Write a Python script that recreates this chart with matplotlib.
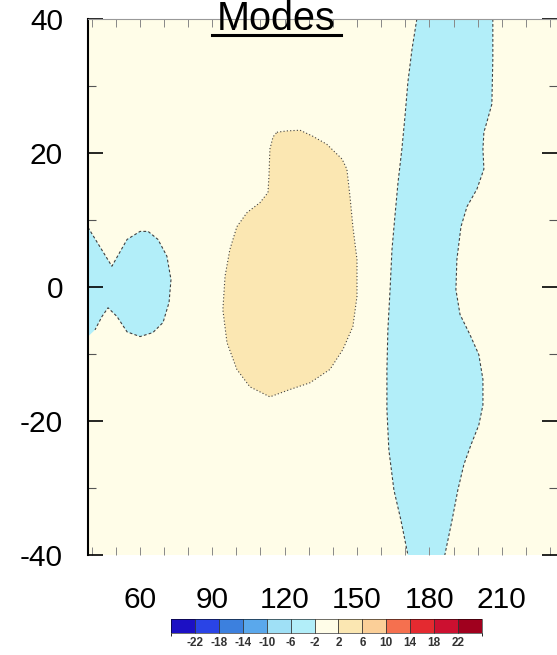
import matplotlib
matplotlib.use("Agg")
import matplotlib.pyplot as plt
import matplotlib as mpl
from matplotlib.colors import ListedColormap, BoundaryNorm
from matplotlib.lines import Line2D

plt.rcParams["font.family"] = ["Liberation Sans", "DejaVu Sans"]
plt.rcParams["axes.unicode_minus"] = False

# ---------------------------
# Data (lon, lat outlines)
# ---------------------------
levels = [-22, -18, -14, -10, -6, -2, 2, 6, 10, 14, 18, 22]
colors = ["#1c10c4", "#2a44e6", "#3c80de", "#5aa8ec", "#9fe0f6", "#b2eef9",
          "#fffde8", "#fbe7b2", "#fbcf98", "#f5704f", "#e42a30", "#cc1030", "#a0001e"]

xticks = [60, 90, 120, 150, 180, 210]
yticks = [-40, -20, 0, 20, 40]

# cyan blob on the western edge (value between -6 and -2)
west_lon = [38.5, 48.4, 54.7, 60.1, 63.4, 67.5, 71.2, 72.9, 72.1, 69.6, 65.4,
            60.1, 54.7, 50.5, 46.8, 44.3, 41.4, 38.5]
west_lat = [8.9, 3.1, 7.1, 8.3, 8.3, 7.1, 4.6, 1.1, -2.3, -5.3, -6.8,
            -7.4, -6.7, -4.4, -3.1, -4.4, -6.4, -7.4]

# tan blob (value between 2 and 6)
tan_lon = [116.8, 121.0, 126.4, 131.7, 137.5, 143.8, 145.8, 147.1, 148.3, 150.0,
           150.0, 148.3, 144.2, 138.8, 130.5, 122.2, 113.9, 105.6, 100.2, 96.1,
           94.4, 95.3, 97.3, 100.2, 104.4, 109.8, 113.1, 113.5, 113.9, 115.2, 116.8]
tan_lat = [23.1, 23.3, 23.4, 22.5, 21.3, 19.1, 17.6, 13.5, 9.0, 4.1,
           -1.4, -5.9, -9.3, -12.3, -14.3, -15.3, -16.4, -14.9, -12.3, -8.3,
           -3.4, 1.6, 5.6, 9.0, 11.1, 12.6, 14.1, 16.5, 20.6, 22.4, 23.1]

# cyan band near the dateline: western and eastern edges
band_w_lon = [174.8, 172.8, 171.1, 169.9, 168.6, 167.0, 165.7, 164.5, 163.7,
              162.8, 162.4, 162.4, 163.2, 165.3, 168.2, 171.1]
band_w_lat = [40, 35.5, 30.6, 25.5, 20.6, 15.6, 10.5, 5.6, -0.4,
              -6.4, -12.3, -18.3, -24.3, -30.3, -34.8, -40]
band_e_lon = [206.3, 206.3, 205.9, 203.9, 202.6, 202.2, 202.6, 199.7, 195.6, 193.1,
              191.4, 191.0, 192.7, 196.8, 200.5, 202.2, 202.2, 200.5, 197.2, 194.3,
              191.8, 189.4, 186.4]
band_e_lat = [40, 34.0, 27.3, 24.7, 23.1, 20.6, 17.6, 14.6, 12.0, 9.0,
              4.1, -0.4, -4.1, -7.1, -10.1, -13.8, -17.6, -20.6, -23.6, -26.5,
              -30.3, -34.8, -40]

# ---------------------------
# Figure
# ---------------------------
fig = plt.figure(figsize=(5.57, 6.55), dpi=100)
ax = fig.add_axes([88 / 557, 100 / 655, 469 / 557, 536 / 655])
ax.set_facecolor(colors[6])

cyan = colors[5]
tan = colors[7]
line_kw = dict(color="#404040", lw=0.8, ls=(0, (2.5, 2)))

ax.fill(west_lon, west_lat, color=cyan, lw=0)
ax.plot(west_lon[:-1], west_lat[:-1], **line_kw)

ax.fill(tan_lon, tan_lat, color=tan, lw=0)
ax.plot(tan_lon, tan_lat, color="#404040", lw=0.8, ls=(0, (1, 2)))

ax.fill(band_w_lon + band_e_lon[::-1], band_w_lat + band_e_lat[::-1], color=cyan, lw=0)
ax.plot(band_w_lon, band_w_lat, **line_kw)
ax.plot(band_e_lon, band_e_lat, **line_kw)

ax.set_xlim(38.5, 232.9)
ax.set_ylim(-40, 40)

ax.set_xticks(xticks)
ax.set_xticks(range(40, 240, 10), minor=True)
ax.set_yticks(yticks)
ax.set_yticks(range(-40, 50, 10), minor=True)

ax.tick_params(axis="x", which="both", direction="in", length=6, width=0.7,
               color="#888888", top=True, bottom=True, labelsize=21.5, pad=22)
ax.tick_params(axis="y", which="major", direction="in", length=11, width=1.2,
               left=True, right=True, labelsize=21.5, pad=18)
ax.tick_params(axis="y", which="minor", direction="in", length=6, width=0.8,
               color="#555555", left=True, right=True)

ax.spines["left"].set_linewidth(1.5)
ax.spines["top"].set_color("#999999")
ax.spines["bottom"].set_visible(False)
ax.spines["right"].set_visible(False)

# title with underline
fig.text(276 / 557, 1 - 30 / 655, "Modes", ha="center", va="baseline", fontsize=28.5)
fig.add_artist(Line2D([212 / 557, 341 / 557], [1 - 35 / 655] * 2, lw=2.2,
                      color="black", transform=fig.transFigure))

# colorbar
cax = fig.add_axes([171 / 557, 22 / 655, 311 / 557, 14 / 655])
bounds = [-26] + levels + [26]
cmap = ListedColormap(colors)
norm = BoundaryNorm(bounds, cmap.N)
cb = mpl.colorbar.ColorbarBase(cax, cmap=cmap, norm=norm, boundaries=bounds,
                               ticks=levels, orientation="horizontal", drawedges=True)
cb.dividers.set_color("#333333")
cb.dividers.set_linewidth(0.6)
cb.outline.set_linewidth(0.4)
cax.tick_params(length=0, labelsize=8.5, pad=3)
for t in cax.get_xticklabels():
    t.set_fontweight("bold")
    t.set_color("#333333")

fig.savefig("out.png", dpi=100)
